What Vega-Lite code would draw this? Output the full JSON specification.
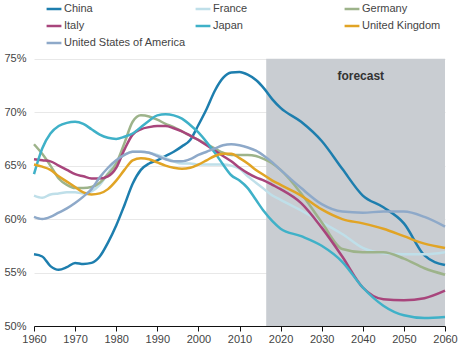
{
  "$schema": "https://vega.github.io/schema/vega-lite/v6.json",
  "width": 411,
  "height": 278,
  "autosize": "none",
  "padding": {"left": 34, "top": 48, "right": 16, "bottom": 24},
  "background": "white",
  "config": {
    "view": {"stroke": null},
    "font": "Liberation Sans",
    "axis": {"labelFont": "Liberation Sans", "labelFontSize": 11, "labelColor": "#444"}
  },
  "datasets": {
    "series": [
      {"country":"China","year":1960,"value":56.7},{"country":"China","year":1962,"value":56.5},{"country":"China","year":1964,"value":55.6},{"country":"China","year":1966,"value":55.25},{"country":"China","year":1968,"value":55.5},{"country":"China","year":1970,"value":55.9},{"country":"China","year":1972,"value":55.8},{"country":"China","year":1974,"value":55.9},{"country":"China","year":1976,"value":56.5},{"country":"China","year":1978,"value":57.8},{"country":"China","year":1980,"value":59.4},{"country":"China","year":1982,"value":61.3},{"country":"China","year":1984,"value":63.3},{"country":"China","year":1986,"value":64.6},{"country":"China","year":1988,"value":65.2},{"country":"China","year":1990,"value":65.5},{"country":"China","year":1992,"value":65.9},{"country":"China","year":1994,"value":66.3},{"country":"China","year":1996,"value":66.8},{"country":"China","year":1998,"value":67.4},{"country":"China","year":2000,"value":68.8},{"country":"China","year":2002,"value":70.3},{"country":"China","year":2004,"value":72.0},{"country":"China","year":2006,"value":73.2},{"country":"China","year":2008,"value":73.7},{"country":"China","year":2010,"value":73.75},{"country":"China","year":2012,"value":73.5},{"country":"China","year":2014,"value":73.0},{"country":"China","year":2016,"value":72.2},{"country":"China","year":2018,"value":71.2},{"country":"China","year":2020,"value":70.4},{"country":"China","year":2025,"value":69.1},{"country":"China","year":2030,"value":67.3},{"country":"China","year":2035,"value":64.7},{"country":"China","year":2040,"value":62.2},{"country":"China","year":2045,"value":61.1},{"country":"China","year":2050,"value":59.6},{"country":"China","year":2055,"value":56.6},{"country":"China","year":2060,"value":55.7},

      {"country":"France","year":1960,"value":62.2},{"country":"France","year":1962,"value":62.0},{"country":"France","year":1964,"value":62.3},{"country":"France","year":1966,"value":62.4},{"country":"France","year":1968,"value":62.5},{"country":"France","year":1970,"value":62.5},{"country":"France","year":1972,"value":62.4},{"country":"France","year":1974,"value":62.6},{"country":"France","year":1976,"value":63.2},{"country":"France","year":1978,"value":64.3},{"country":"France","year":1980,"value":65.4},{"country":"France","year":1982,"value":66.0},{"country":"France","year":1984,"value":66.3},{"country":"France","year":1986,"value":66.3},{"country":"France","year":1988,"value":66.2},{"country":"France","year":1990,"value":66.0},{"country":"France","year":1992,"value":65.7},{"country":"France","year":1994,"value":65.4},{"country":"France","year":1996,"value":65.2},{"country":"France","year":1998,"value":65.2},{"country":"France","year":2000,"value":65.1},{"country":"France","year":2002,"value":65.1},{"country":"France","year":2004,"value":65.1},{"country":"France","year":2006,"value":65.1},{"country":"France","year":2008,"value":65.0},{"country":"France","year":2010,"value":64.7},{"country":"France","year":2012,"value":64.0},{"country":"France","year":2014,"value":63.4},{"country":"France","year":2016,"value":62.8},{"country":"France","year":2018,"value":62.2},{"country":"France","year":2020,"value":61.8},{"country":"France","year":2025,"value":60.8},{"country":"France","year":2030,"value":59.7},{"country":"France","year":2035,"value":58.6},{"country":"France","year":2040,"value":57.3},{"country":"France","year":2045,"value":56.8},{"country":"France","year":2050,"value":56.7},{"country":"France","year":2055,"value":56.7},{"country":"France","year":2060,"value":56.9},

      {"country":"Germany","year":1960,"value":67.0},{"country":"Germany","year":1962,"value":66.1},{"country":"Germany","year":1964,"value":65.0},{"country":"Germany","year":1966,"value":63.8},{"country":"Germany","year":1968,"value":63.2},{"country":"Germany","year":1970,"value":62.9},{"country":"Germany","year":1972,"value":62.9},{"country":"Germany","year":1974,"value":63.0},{"country":"Germany","year":1976,"value":63.4},{"country":"Germany","year":1978,"value":64.2},{"country":"Germany","year":1980,"value":65.2},{"country":"Germany","year":1982,"value":67.1},{"country":"Germany","year":1984,"value":69.1},{"country":"Germany","year":1986,"value":69.7},{"country":"Germany","year":1988,"value":69.6},{"country":"Germany","year":1990,"value":69.3},{"country":"Germany","year":1992,"value":68.9},{"country":"Germany","year":1994,"value":68.6},{"country":"Germany","year":1996,"value":68.2},{"country":"Germany","year":1998,"value":67.8},{"country":"Germany","year":2000,"value":67.4},{"country":"Germany","year":2002,"value":67.0},{"country":"Germany","year":2004,"value":66.6},{"country":"Germany","year":2006,"value":66.2},{"country":"Germany","year":2008,"value":66.0},{"country":"Germany","year":2010,"value":66.0},{"country":"Germany","year":2012,"value":66.0},{"country":"Germany","year":2014,"value":65.9},{"country":"Germany","year":2016,"value":65.6},{"country":"Germany","year":2018,"value":65.2},{"country":"Germany","year":2020,"value":64.6},{"country":"Germany","year":2025,"value":62.4},{"country":"Germany","year":2030,"value":59.7},{"country":"Germany","year":2035,"value":57.2},{"country":"Germany","year":2040,"value":56.9},{"country":"Germany","year":2045,"value":56.9},{"country":"Germany","year":2050,"value":56.3},{"country":"Germany","year":2055,"value":55.4},{"country":"Germany","year":2060,"value":54.8},

      {"country":"Italy","year":1960,"value":65.6},{"country":"Italy","year":1962,"value":65.5},{"country":"Italy","year":1964,"value":65.4},{"country":"Italy","year":1966,"value":65.0},{"country":"Italy","year":1968,"value":64.6},{"country":"Italy","year":1970,"value":64.2},{"country":"Italy","year":1972,"value":64.0},{"country":"Italy","year":1974,"value":63.8},{"country":"Italy","year":1976,"value":63.8},{"country":"Italy","year":1978,"value":64.0},{"country":"Italy","year":1980,"value":64.8},{"country":"Italy","year":1982,"value":66.5},{"country":"Italy","year":1984,"value":67.9},{"country":"Italy","year":1986,"value":68.4},{"country":"Italy","year":1988,"value":68.6},{"country":"Italy","year":1990,"value":68.7},{"country":"Italy","year":1992,"value":68.7},{"country":"Italy","year":1994,"value":68.5},{"country":"Italy","year":1996,"value":68.2},{"country":"Italy","year":1998,"value":67.8},{"country":"Italy","year":2000,"value":67.4},{"country":"Italy","year":2002,"value":66.9},{"country":"Italy","year":2004,"value":66.4},{"country":"Italy","year":2006,"value":65.9},{"country":"Italy","year":2008,"value":65.4},{"country":"Italy","year":2010,"value":64.8},{"country":"Italy","year":2012,"value":64.3},{"country":"Italy","year":2014,"value":63.9},{"country":"Italy","year":2016,"value":63.6},{"country":"Italy","year":2018,"value":63.2},{"country":"Italy","year":2020,"value":62.8},{"country":"Italy","year":2025,"value":61.5},{"country":"Italy","year":2030,"value":59.2},{"country":"Italy","year":2035,"value":56.5},{"country":"Italy","year":2040,"value":53.6},{"country":"Italy","year":2045,"value":52.5},{"country":"Italy","year":2050,"value":52.4},{"country":"Italy","year":2055,"value":52.6},{"country":"Italy","year":2060,"value":53.3},

      {"country":"Japan","year":1960,"value":64.2},{"country":"Japan","year":1962,"value":66.6},{"country":"Japan","year":1964,"value":68.0},{"country":"Japan","year":1966,"value":68.7},{"country":"Japan","year":1968,"value":69.0},{"country":"Japan","year":1970,"value":69.1},{"country":"Japan","year":1972,"value":68.9},{"country":"Japan","year":1974,"value":68.4},{"country":"Japan","year":1976,"value":67.9},{"country":"Japan","year":1978,"value":67.6},{"country":"Japan","year":1980,"value":67.5},{"country":"Japan","year":1982,"value":67.7},{"country":"Japan","year":1984,"value":68.0},{"country":"Japan","year":1986,"value":68.6},{"country":"Japan","year":1988,"value":69.2},{"country":"Japan","year":1990,"value":69.7},{"country":"Japan","year":1992,"value":69.8},{"country":"Japan","year":1994,"value":69.7},{"country":"Japan","year":1996,"value":69.4},{"country":"Japan","year":1998,"value":68.8},{"country":"Japan","year":2000,"value":68.1},{"country":"Japan","year":2002,"value":67.2},{"country":"Japan","year":2004,"value":66.2},{"country":"Japan","year":2006,"value":65.1},{"country":"Japan","year":2008,"value":64.1},{"country":"Japan","year":2010,"value":63.6},{"country":"Japan","year":2012,"value":62.9},{"country":"Japan","year":2014,"value":61.8},{"country":"Japan","year":2016,"value":60.7},{"country":"Japan","year":2018,"value":59.8},{"country":"Japan","year":2020,"value":59.1},{"country":"Japan","year":2025,"value":58.4},{"country":"Japan","year":2030,"value":57.5},{"country":"Japan","year":2035,"value":56.0},{"country":"Japan","year":2040,"value":53.6},{"country":"Japan","year":2045,"value":51.9},{"country":"Japan","year":2050,"value":51.0},{"country":"Japan","year":2055,"value":50.75},{"country":"Japan","year":2060,"value":50.85},

      {"country":"United Kingdom","year":1960,"value":65.1},{"country":"United Kingdom","year":1962,"value":64.9},{"country":"United Kingdom","year":1964,"value":64.6},{"country":"United Kingdom","year":1966,"value":64.0},{"country":"United Kingdom","year":1968,"value":63.5},{"country":"United Kingdom","year":1970,"value":63.0},{"country":"United Kingdom","year":1972,"value":62.5},{"country":"United Kingdom","year":1974,"value":62.3},{"country":"United Kingdom","year":1976,"value":62.4},{"country":"United Kingdom","year":1978,"value":62.8},{"country":"United Kingdom","year":1980,"value":63.6},{"country":"United Kingdom","year":1982,"value":64.6},{"country":"United Kingdom","year":1984,"value":65.5},{"country":"United Kingdom","year":1986,"value":65.7},{"country":"United Kingdom","year":1988,"value":65.6},{"country":"United Kingdom","year":1990,"value":65.3},{"country":"United Kingdom","year":1992,"value":65.0},{"country":"United Kingdom","year":1994,"value":64.8},{"country":"United Kingdom","year":1996,"value":64.7},{"country":"United Kingdom","year":1998,"value":64.8},{"country":"United Kingdom","year":2000,"value":65.1},{"country":"United Kingdom","year":2002,"value":65.5},{"country":"United Kingdom","year":2004,"value":65.9},{"country":"United Kingdom","year":2006,"value":66.1},{"country":"United Kingdom","year":2008,"value":66.1},{"country":"United Kingdom","year":2010,"value":65.7},{"country":"United Kingdom","year":2012,"value":65.2},{"country":"United Kingdom","year":2014,"value":64.6},{"country":"United Kingdom","year":2016,"value":64.1},{"country":"United Kingdom","year":2018,"value":63.6},{"country":"United Kingdom","year":2020,"value":63.2},{"country":"United Kingdom","year":2025,"value":62.2},{"country":"United Kingdom","year":2030,"value":60.9},{"country":"United Kingdom","year":2035,"value":60.0},{"country":"United Kingdom","year":2040,"value":59.6},{"country":"United Kingdom","year":2045,"value":59.1},{"country":"United Kingdom","year":2050,"value":58.4},{"country":"United Kingdom","year":2055,"value":57.7},{"country":"United Kingdom","year":2060,"value":57.3},

      {"country":"United States of America","year":1960,"value":60.2},{"country":"United States of America","year":1962,"value":60.0},{"country":"United States of America","year":1964,"value":60.2},{"country":"United States of America","year":1966,"value":60.6},{"country":"United States of America","year":1968,"value":61.0},{"country":"United States of America","year":1970,"value":61.5},{"country":"United States of America","year":1972,"value":62.1},{"country":"United States of America","year":1974,"value":62.8},{"country":"United States of America","year":1976,"value":63.9},{"country":"United States of America","year":1978,"value":64.8},{"country":"United States of America","year":1980,"value":65.5},{"country":"United States of America","year":1982,"value":66.0},{"country":"United States of America","year":1984,"value":66.3},{"country":"United States of America","year":1986,"value":66.3},{"country":"United States of America","year":1988,"value":66.2},{"country":"United States of America","year":1990,"value":65.9},{"country":"United States of America","year":1992,"value":65.6},{"country":"United States of America","year":1994,"value":65.4},{"country":"United States of America","year":1996,"value":65.4},{"country":"United States of America","year":1998,"value":65.6},{"country":"United States of America","year":2000,"value":66.0},{"country":"United States of America","year":2002,"value":66.3},{"country":"United States of America","year":2004,"value":66.6},{"country":"United States of America","year":2006,"value":66.9},{"country":"United States of America","year":2008,"value":67.0},{"country":"United States of America","year":2010,"value":66.9},{"country":"United States of America","year":2012,"value":66.7},{"country":"United States of America","year":2014,"value":66.4},{"country":"United States of America","year":2016,"value":65.9},{"country":"United States of America","year":2018,"value":65.3},{"country":"United States of America","year":2020,"value":64.6},{"country":"United States of America","year":2025,"value":62.9},{"country":"United States of America","year":2030,"value":61.4},{"country":"United States of America","year":2035,"value":60.7},{"country":"United States of America","year":2040,"value":60.6},{"country":"United States of America","year":2045,"value":60.7},{"country":"United States of America","year":2050,"value":60.7},{"country":"United States of America","year":2055,"value":60.2},{"country":"United States of America","year":2060,"value":59.3}
    ],
    "period": [{"start": 2016.5, "end": 2060, "low": 50, "high": 75}],
    "note": [{"year": 2039.5, "value": 73.4, "label": "forecast"}]
  },
  "layer": [
    {
      "data": {"name": "period"},
      "mark": {"type": "rect", "color": "#c9cdd2"},
      "encoding": {
        "x": {"field": "start", "type": "quantitative", "scale": {"domain": [1960, 2060]},
              "axis": {"values": [1960,1970,1980,1990,2000,2010,2020,2030,2040,2050,2060], "format": "d", "title": null, "grid": false, "domainColor": "#111", "tickColor": "#111", "tickSize": 5, "labelPadding": 2, "labelFlush": false, "labelOverlap": false}},
        "x2": {"field": "end"},
        "y": {"field": "low", "type": "quantitative", "scale": {"domain": [50, 75]},
              "axis": {"values": [50,55,60,65,70,75], "labelExpr": "datum.value + '%'", "title": null, "domain": false, "ticks": false, "gridColor": "#e8e8e8", "labelPadding": 8, "labelFlush": false}},
        "y2": {"field": "high"}
      }
    },
    {
      "data": {"name": "series"},
      "mark": {"type": "line", "strokeWidth": 2.5, "interpolate": "monotone"},
      "encoding": {
        "x": {"field": "year", "type": "quantitative"},
        "y": {"field": "value", "type": "quantitative"},
        "color": {
          "field": "country", "type": "nominal",
          "scale": {
            "domain": ["China","France","Germany","Italy","Japan","United Kingdom","United States of America"],
            "range": ["#1d7eae","#bfdfe9","#9db38a","#a8457c","#3fb1c8","#e1a425","#8ea9c9"]
          },
          "legend": {
            "title": null, "orient": "none", "legendX": 11, "legendY": -48,
            "direction": "horizontal",
            "columns": 3, "gridAlign": "all", "columnPadding": 4, "rowPadding": 3,
            "symbolType": "stroke", "symbolSize": 220, "symbolStrokeWidth": 2.5,
            "labelFont": "Liberation Sans", "labelFontSize": 11, "labelColor": "#444", "labelOffset": 1, "labelLimit": 200
          }
        }
      }
    },
    {
      "data": {"name": "note"},
      "mark": {"type": "text", "font": "Liberation Sans", "fontSize": 12, "fontWeight": "bold", "color": "#333"},
      "encoding": {
        "x": {"field": "year", "type": "quantitative"},
        "y": {"field": "value", "type": "quantitative"},
        "text": {"field": "label"}
      }
    }
  ]
}
